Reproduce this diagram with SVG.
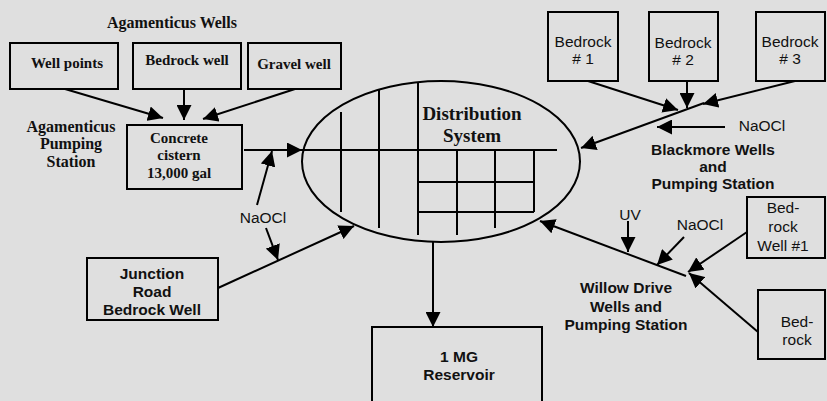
<svg xmlns="http://www.w3.org/2000/svg" width="827" height="401" viewBox="0 0 827 401">
<style>
.bg{fill:#dfdfdf}
.box{fill:none;stroke:#000;stroke-width:2}
.ln{fill:none;stroke:#000;stroke-width:2}
.ar{fill:none;stroke:#000;stroke-width:2;marker-end:url(#ah)}
.serif{font-family:"Liberation Serif","Times New Roman",serif;font-weight:bold;fill:#111;text-anchor:middle}
.sans{font-family:"Liberation Sans",Arial,sans-serif;fill:#111;text-anchor:middle;font-size:15.5px}
.sansb{font-family:"Liberation Sans",Arial,sans-serif;font-weight:bold;fill:#111;text-anchor:middle;font-size:15.5px}
</style>
<defs>
<marker id="ah" viewBox="0 0 15 15" refX="15" refY="7.5" markerWidth="15" markerHeight="15" markerUnits="userSpaceOnUse" orient="auto">
<path d="M0,0 L15,7.5 L0,15 z" fill="#000"/>
</marker>
</defs>
<rect class="bg" x="0" y="0" width="827" height="401"/>

<text class="serif" x="172" y="28" font-size="16">Agamenticus Wells</text>
<g id="well-points"><rect class="box" x="10" y="43" width="108" height="46"/><text class="serif" x="67" y="68" font-size="15">Well points</text></g>
<g id="bedrock-well"><rect class="box" x="133" y="43" width="108" height="46"/><text class="serif" x="187" y="65" font-size="15">Bedrock well</text></g>
<g id="gravel-well"><rect class="box" x="248" y="43" width="93" height="46"/><text class="serif" x="294" y="69" font-size="15">Gravel well</text></g>
<g id="cistern"><rect class="box" x="127" y="125" width="115" height="64"/>
<text class="serif" x="179" y="143" font-size="15">Concrete</text>
<text class="serif" x="179" y="160" font-size="15">cistern</text>
<text class="serif" x="179" y="178" font-size="15">13,000 gal</text></g>
<g id="agamenticus-ps-label">
<text class="serif" x="71" y="132" font-size="16">Agamenticus</text>
<text class="serif" x="71" y="149" font-size="16">Pumping</text>
<text class="serif" x="71" y="167" font-size="16">Station</text></g>

<g id="distribution">
<ellipse class="ln" cx="441" cy="161.5" rx="139" ry="80.5"/>
<path class="ln" d="M302,150 H557 M341,112 V212 M379,89 V228 M418,82 V235 M457,150 V235 M495,150 V228 M534,150 V212 M418,182 H534 M418,212 H534"/>
<text class="serif" x="472" y="120" font-size="19">Distribution</text>
<text class="serif" x="472" y="142" font-size="19">System</text>
</g>

<g id="bedrock1"><rect class="box" x="548" y="12" width="70" height="69"/><text class="sans" x="583" y="47">Bedrock</text><text class="sans" x="583" y="64"># 1</text></g>
<g id="bedrock2"><rect class="box" x="649" y="12" width="69" height="69"/><text class="sans" x="683" y="48">Bedrock</text><text class="sans" x="683" y="65"># 2</text></g>
<g id="bedrock3"><rect class="box" x="756" y="12" width="69" height="69"/><text class="sans" x="790" y="47">Bedrock</text><text class="sans" x="790" y="64"># 3</text></g>
<g id="blackmore-label">
<text class="sansb" x="713" y="155" font-size="16">Blackmore Wells</text>
<text class="sansb" x="713" y="172" font-size="16">and</text>
<text class="sansb" x="713" y="189" font-size="16">Pumping Station</text></g>
<text class="sans" x="762" y="131">NaOCl</text>

<g id="willow-well1"><rect class="box" x="747" y="197" width="78" height="61"/>
<text class="sans" x="783" y="213">Bed-</text><text class="sans" x="783" y="232">rock</text><text class="sans" x="783" y="251">Well #1</text></g>
<g id="willow-bedrock"><rect class="box" x="758" y="290" width="67" height="69"/>
<text class="sans" x="797" y="327">Bed-</text><text class="sans" x="797" y="345">rock</text></g>
<g id="willow-label">
<text class="sansb" x="626" y="293">Willow Drive</text>
<text class="sansb" x="626" y="312">Wells and</text>
<text class="sansb" x="626" y="330">Pumping Station</text></g>
<text class="sans" x="630" y="220">UV</text>
<text class="sans" x="700" y="230">NaOCl</text>

<g id="junction"><rect class="box" x="87" y="258" width="131" height="62"/>
<text class="sansb" x="152" y="279">Junction</text>
<text class="sansb" x="152" y="297">Road</text>
<text class="sansb" x="152" y="315">Bedrock Well</text></g>
<text class="sans" x="263" y="223">NaOCl</text>

<g id="reservoir"><rect class="box" x="372" y="327" width="170" height="90"/>
<text class="sansb" x="459" y="362" font-size="16">1 MG</text>
<text class="sansb" x="459" y="380" font-size="16">Reservoir</text></g>

<g id="connectors">
<line class="ar" x1="65" y1="89" x2="163" y2="118"/>
<line class="ar" x1="184" y1="89" x2="184" y2="120"/>
<line class="ar" x1="295" y1="89" x2="203" y2="119"/>
<line class="ar" x1="244" y1="150" x2="302" y2="150"/>
<line class="ar" x1="257" y1="205" x2="272" y2="151"/>
<line class="ar" x1="266" y1="228" x2="278" y2="260"/>
<line class="ar" x1="218" y1="288" x2="354" y2="226"/>
<line class="ar" x1="433" y1="242" x2="433" y2="327"/>
<line class="ar" x1="588" y1="81" x2="678" y2="110"/>
<line class="ar" x1="687" y1="81" x2="687" y2="108"/>
<line class="ar" x1="795" y1="81" x2="703" y2="104"/>
<line class="ar" x1="704" y1="103" x2="581" y2="148"/>
<line class="ar" x1="725" y1="127" x2="657" y2="127"/>
<line class="ar" x1="747" y1="232" x2="688" y2="272"/>
<line class="ar" x1="758" y1="332" x2="689" y2="273"/>
<line class="ar" x1="686" y1="276" x2="540" y2="221"/>
<line class="ar" x1="628" y1="221" x2="628" y2="252"/>
<line class="ar" x1="684" y1="237" x2="657" y2="265"/>
</g>
</svg>
